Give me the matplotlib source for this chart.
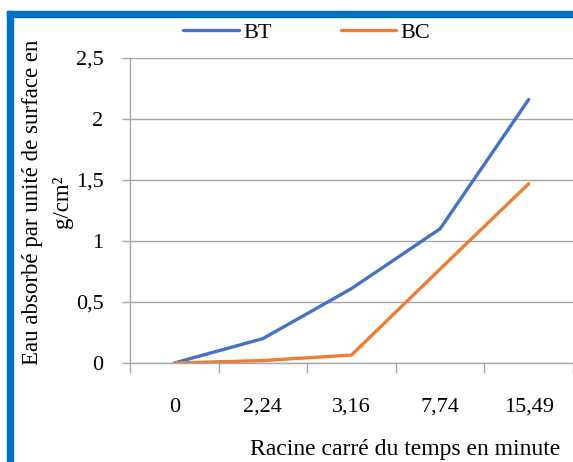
import matplotlib
matplotlib.use("Agg")
import matplotlib.pyplot as plt
import numpy as np
from matplotlib.patches import Rectangle

plt.rcParams['font.family'] = ['Liberation Serif', 'DejaVu Serif']

# données
temps = ['0', '2,24', '3,16', '7,74', '15,49']
bt = [0.0, 0.20, 0.61, 1.10, 2.16]
bc = [0.0, 0.02, 0.065, 0.77, 1.47]
y_ticks = [0, 0.5, 1, 1.5, 2, 2.5]
y_ticklabels = ['0', '0,5', '1', '1,5', '2', '2,5']

W, H = 573, 462
fig = plt.figure(figsize=(W / 100, H / 100), dpi=100)

# cadre bleu (bords gauche et haut)
cadre = '#0070C0'
fig.patches.append(Rectangle((7 / W, 0), 6 / W, 1 - 11 / H, transform=fig.transFigure,
                             color=cadre, zorder=0))
fig.patches.append(Rectangle((7 / W, 1 - 17 / H), 1 - 7 / W, 6 / H, transform=fig.transFigure,
                             color=cadre, zorder=0))

ax = fig.add_axes([130 / W, 1 - 363 / H, 1 - 130 / W, (363 - 58) / H])
x = np.arange(len(temps))
ax.plot(x, bt, color='#4472C4', lw=2.4, label='BT', solid_capstyle='round')
ax.plot(x, bc, color='#ED7D31', lw=2.4, label='BC', solid_capstyle='round')

ax.set_xlim(-0.5, len(temps) - 0.5)
ax.set_ylim(0, 2.5)

# graduations aux limites des catégories, étiquettes au centre
ax.set_xticks(np.arange(len(temps) + 1) - 0.5)
ax.set_xticklabels([])
ax.set_xticks(x, minor=True)
ax.set_xticklabels(temps, minor=True)
ax.tick_params(axis='x', which='major', length=7, color='#A6A6A6', width=1)
ax.tick_params(axis='x', which='minor', length=0, pad=25, labelsize=16)

ax.set_yticks(y_ticks)
ax.set_yticklabels(y_ticklabels)
ax.tick_params(axis='y', length=6, color='#A6A6A6', width=1, pad=13, labelsize=16)

ax.grid(axis='y', color='#A6A6A6', lw=1)
ax.set_axisbelow(True)
for s in ['top', 'right']:
    ax.spines[s].set_visible(False)
for s in ['left', 'bottom']:
    ax.spines[s].set_color('#A6A6A6')
    ax.spines[s].set_linewidth(1)

fig.text(560 / W, 1 - 449 / H, 'Racine carré du temps en minute', ha='right', va='center',
         fontsize=17)
fig.text(33 / W, 1 - 202 / H, 'Eau absorbé par unité de surface en', rotation=90,
         ha='center', va='center', fontsize=16.5)
fig.text(62 / W, 1 - 202 / H, 'g/cm²', rotation=90, ha='center', va='center', fontsize=16.5)

fig.legend(loc='center', bbox_to_anchor=(307 / W, 1 - 33 / H), ncol=2, frameon=False,
           fontsize=16, handlelength=2.5, columnspacing=3.1, handletextpad=0.2)

fig.savefig('out.png', dpi=100)
